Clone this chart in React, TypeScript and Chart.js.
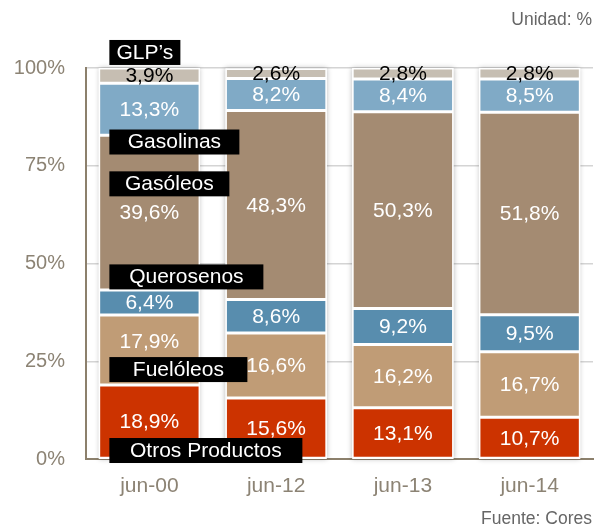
import React, { useEffect, useRef } from "react";
import { Chart, registerables } from "chart.js";

Chart.register(...registerables);

const categories = ["jun-00", "jun-12", "jun-13", "jun-14"];
const otrosProductos = [18.9, 15.6, 13.1, 10.7];
const fueloleos = [17.9, 16.6, 16.2, 16.7];
const querosenos = [6.4, 8.6, 9.2, 9.5];
const gasoleos = [39.6, 48.3, 50.3, 51.8];
const gasolinas = [13.3, 8.2, 8.4, 8.5];
const glps = [3.9, 2.6, 2.8, 2.8];
const yTicks = [0, 25, 50, 75, 100];

// series labels shown as black boxes over the first column: [text, y value, box width]
const seriesTags: [string, number, number][] = [
  ["GLP\u2019s", 104.1, 71],
  ["Gasolinas", 81.2, 130],
  ["Gas\u00f3leos", 70.5, 120],
  ["Querosenos", 46.7, 154],
  ["Fuel\u00f3leos", 23.0, 138],
  ["Otros Productos", 2.3, 193],
];

const FONT = "'Liberation Sans', Arial, Helvetica, sans-serif";
const AXIS_TEXT = "rgb(140,131,116)";

export default function App() {
  const ref = useRef<HTMLCanvasElement | null>(null);

  useEffect(() => {
    document.body.style.margin = "0";
    const canvas = ref.current;
    if (!canvas) return;

    const fmt = (v: number) => v.toFixed(1).replace(".", ",") + "%";

    const stackShadow = {
      id: "stackShadow",
      beforeDatasetsDraw(chart: any) {
        const ctx = chart.ctx;
        const meta0 = chart.getDatasetMeta(0);
        const y = chart.scales.y;
        ctx.save();
        meta0.data.forEach((el: any, i: number) => {
          const total = chart.data.datasets.reduce((s: number, d: any) => s + d.data[i], 0);
          const top = y.getPixelForValue(Math.min(total, 100));
          const bottom = y.getPixelForValue(0);
          const w = el.width;
          ctx.shadowColor = "rgba(0,0,0,0.28)";
          ctx.shadowBlur = 5;
          ctx.fillStyle = "#ffffff";
          ctx.fillRect(el.x - w / 2, top, w, bottom - top);
        });
        ctx.restore();
      },
    };

    const valueLabels = {
      id: "valueLabels",
      afterDatasetsDraw(chart: any) {
        const ctx = chart.ctx;
        const y = chart.scales.y;
        const x = chart.scales.x;
        const tagCenters = seriesTags.map(([, v]) => y.getPixelForValue(v));
        ctx.save();
        ctx.font = `21px ${FONT}`;
        ctx.textAlign = "center";
        ctx.textBaseline = "middle";
        chart.data.datasets.forEach((ds: any, di: number) => {
          const meta = chart.getDatasetMeta(di);
          meta.data.forEach((el: any, i: number) => {
            let cy = (el.y + el.base) / 2;
            if (i === 0) {
              // lift a label out of the way of a tag box that would cover it
              for (const tc of tagCenters) {
                if (Math.abs(cy - tc) < 21) cy = tc - 28;
              }
            }
            ctx.fillStyle = ds.labelColor || "#ffffff";
            ctx.fillText(fmt(ds.data[i]), el.x, cy + 1);
          });
        });

        // series tag boxes
        const left = x.getPixelForValue(0) - 40;
        seriesTags.forEach(([text, v, w]) => {
          const cy = y.getPixelForValue(v);
          ctx.fillStyle = "#000000";
          ctx.fillRect(left, cy - 12, w, 25);
          ctx.fillStyle = "#ffffff";
          ctx.textAlign = "center";
          ctx.fillText(text, left + w / 2, cy + 1);
        });

        // unit and source notes
        ctx.fillStyle = "#666666";
        ctx.font = `17.5px ${FONT}`;
        ctx.textAlign = "right";
        ctx.fillText("Unidad: %", chart.width - 2, 20);
        ctx.fillText("Fuente: Cores", chart.width - 2, 519);
        ctx.restore();
      },
    };

    const mk = (label: string, data: number[], color: string, labelColor?: string) => ({
      label,
      data,
      backgroundColor: color,
      borderColor: "#ffffff",
      borderWidth: 1.5,
      borderSkipped: false,
      labelColor,
    });

    const chart = new Chart(canvas, {
      type: "bar",
      data: {
        labels: categories,
        datasets: [
          mk("Otros Productos", otrosProductos, "#cc3300"),
          mk("Fuelóleos", fueloleos, "#c09c76"),
          mk("Querosenos", querosenos, "#588dae"),
          mk("Gasóleos", gasoleos, "#a48b72"),
          mk("Gasolinas", gasolinas, "#80aac6"),
          mk("GLP’s", glps, "#c6beb2", "#000000"),
        ] as any,
      },
      options: {
        animation: false,
        responsive: false,
        maintainAspectRatio: false,
        layout: { padding: { top: 68, right: 1, left: 0, bottom: 0 } },
        datasets: { bar: { categoryPercentage: 1, barPercentage: 0.8 } },
        plugins: {
          legend: { display: false },
          tooltip: { enabled: false },
          title: { display: false },
        },
        scales: {
          x: {
            stacked: true,
            grid: { display: false, drawTicks: false },
            border: { display: true, color: "rgb(140,128,108)", width: 2 },
            ticks: {
              color: AXIS_TEXT,
              font: { family: FONT, size: 21 },
              padding: 15,
            },
            afterFit(scale: any) {
              scale.height = 68;
            },
          },
          y: {
            stacked: true,
            min: 0,
            max: 100,
            afterBuildTicks(scale: any) {
              scale.ticks = yTicks.map((v) => ({ value: v }));
            },
            grid: { color: "rgb(212,212,212)", lineWidth: 1.5, drawTicks: false },
            border: { display: true, color: "rgb(140,128,108)", width: 2 },
            ticks: {
              color: AXIS_TEXT,
              font: { family: FONT, size: 20 },
              padding: 21,
              callback: (v: any) => v + "%",
            },
            afterFit(scale: any) {
              scale.width = 86;
            },
          },
        },
      },
      plugins: [stackShadow, valueLabels],
    });

    return () => chart.destroy();
  }, []);

  return (
    <div style={{ width: 594, height: 527, background: "#ffffff" }}>
      <canvas ref={ref} width={594} height={527} />
    </div>
  );
}
